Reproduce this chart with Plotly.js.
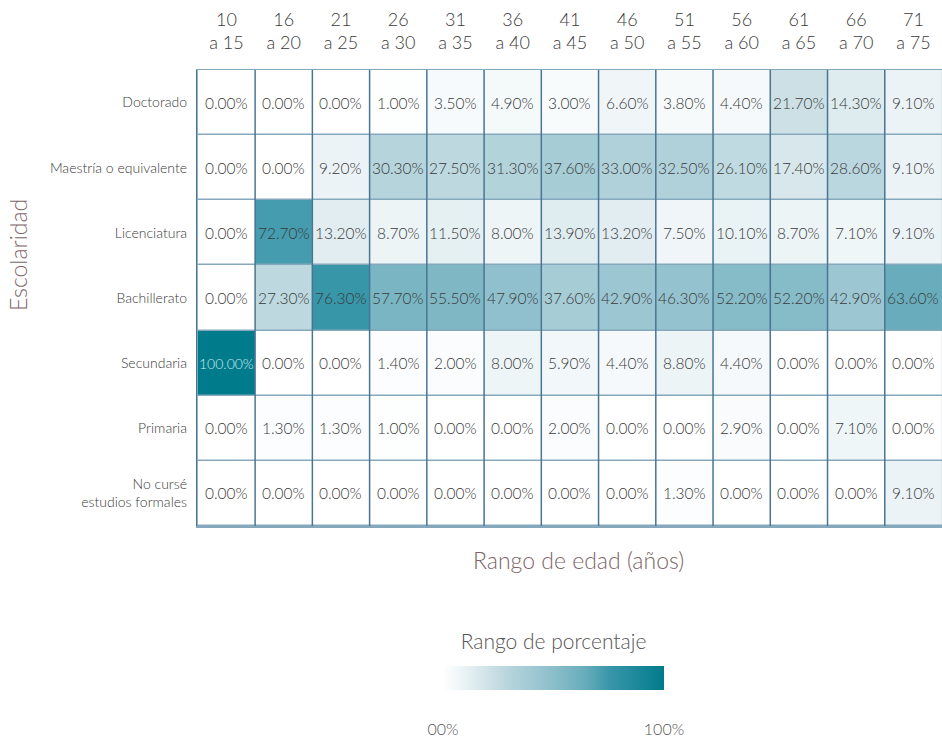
<!DOCTYPE html>
<html>
<head>
<meta charset="utf-8">
<script src="https://cdn.plot.ly/plotly-3.0.1.min.js"></script>
<style>html,body{margin:0;padding:0;background:#fff;}#chart{width:942px;height:738px;}</style>
</head>
<body>
<div id="chart"></div>
<script>
// Age ranges (x categories) and tick labels
const ageRanges = ['10-15','16-20','21-25','26-30','31-35','36-40','41-45','46-50','51-55','56-60','61-65','66-70','71-75'];
const ageLabels = ['10<br>a 15','16<br>a 20','21<br>a 25','26<br>a 30','31<br>a 35','36<br>a 40','41<br>a 45','46<br>a 50','51<br>a 55','56<br>a 60','61<br>a 65','66<br>a 70','71<br>a 75'];

// Schooling levels (y categories, top to bottom)
const levels = ['Doctorado','Maestría o equivalente','Licenciatura','Bachillerato','Secundaria','Primaria','No cursé<br>estudios formales'];

// Percentages per level
const doctorado    = [0, 0, 0, 1.0, 3.5, 4.9, 3.0, 6.6, 3.8, 4.4, 21.7, 14.3, 9.1];
const maestria     = [0, 0, 9.2, 30.3, 27.5, 31.3, 37.6, 33.0, 32.5, 26.1, 17.4, 28.6, 9.1];
const licenciatura = [0, 72.7, 13.2, 8.7, 11.5, 8.0, 13.9, 13.2, 7.5, 10.1, 8.7, 7.1, 9.1];
const bachillerato = [0, 27.3, 76.3, 57.7, 55.5, 47.9, 37.6, 42.9, 46.3, 52.2, 52.2, 42.9, 63.6];
const secundaria   = [100, 0, 0, 1.4, 2.0, 8.0, 5.9, 4.4, 8.8, 4.4, 0, 0, 0];
const primaria     = [0, 1.3, 1.3, 1.0, 0, 0, 2.0, 0, 0, 2.9, 0, 7.1, 0];
const noCurse      = [0, 0, 0, 0, 0, 0, 0, 0, 1.3, 0, 0, 0, 9.1];

const zRows = [doctorado, maestria, licenciatura, bachillerato, secundaria, primaria, noCurse];

const FONT = 'Lato, "Open Sans", sans-serif';

const colorscale = [
  [0, '#ffffff'], [0.1, '#e9f2f5'], [0.2, '#d0e3e8'], [0.3, '#b6d4dc'],
  [0.43, '#9bc6d2'], [0.55, '#80b8c5'], [0.64, '#68adbc'], [0.75, '#3a97aa'], [1, '#007b8c']
];

const heat = {
  type: 'heatmap',
  x: ageRanges,
  y: levels,
  z: zRows,
  zmin: 0, zmax: 100,
  colorscale: colorscale,
  xgap: 0, ygap: 1.5,
  hoverinfo: 'skip',
  colorbar: {
    orientation: 'h',
    x: (553.5 - 197) / 745, xanchor: 'center',
    y: (526 - 641) / 456, yanchor: 'top',
    len: 221, lenmode: 'pixels',
    thickness: 24,
    xpad: 0, ypad: 0,
    outlinewidth: 0,
    title: {text: 'Rango de porcentaje', side: 'top', font: {family: FONT, size: 21, color: '#555555', weight: 300}},
    tickmode: 'array', tickvals: [0, 100], ticktext: ['00%', '100%'],
    ticks: 'outside', ticklen: 26, tickcolor: 'rgba(0,0,0,0)',
    tickfont: {family: FONT, size: 16, color: '#555555', weight: 300}
  }
};

// Cell value annotations
const annotations = [];
zRows.forEach((row, r) => {
  row.forEach((v, c) => {
    annotations.push({
      x: ageRanges[c], y: levels[r], xref: 'x', yref: 'y',
      text: v.toFixed(2) + '%', showarrow: false,
      font: {family: FONT, size: v > 90 ? 14 : 15.5, color: v > 90 ? '#cfe8ee' : '#3a3a3a', weight: 300}
    });
  });
});

annotations.push({
  xref: 'paper', yref: 'paper', x: (578 - 197) / 745, y: (526 - 560) / 456,
  xanchor: 'center', yanchor: 'middle', showarrow: false,
  text: 'Rango de edad (años)', font: {family: FONT, size: 23, color: '#7d6467', weight: 300}
});
annotations.push({
  xref: 'paper', yref: 'paper', x: (18 - 197) / 745, y: (526 - 255) / 456,
  xanchor: 'center', yanchor: 'middle', showarrow: false, textangle: -90,
  text: 'Escolaridad', font: {family: FONT, size: 23, color: '#7d6467', weight: 300}
});

// vertical separators between age columns
const shapes = ageRanges.slice(1).map((_, i) => ({
  type: 'line', xref: 'x', yref: 'paper', x0: i + 0.5, x1: i + 0.5, y0: 0, y1: 1,
  line: {color: '#4a7592', width: 1.5}, layer: 'above'
}));

const layout = {
  width: 942, height: 738,
  margin: {l: 197, r: 0, t: 70, b: 212, autoexpand: false},
  paper_bgcolor: '#ffffff',
  plot_bgcolor: '#86a8bd',
  font: {family: FONT, color: '#3a3a3a'},
  xaxis: {
    side: 'top', type: 'category',
    tickmode: 'array', tickvals: ageRanges, ticktext: ageLabels,
    tickfont: {family: FONT, size: 18, color: '#3a3a3a', weight: 300},
    ticks: 'outside', ticklen: 12, tickcolor: 'rgba(0,0,0,0)',
    showgrid: false, zeroline: false,
    showline: true, mirror: true, linecolor: '#86a8bd', linewidth: 1.5,
    fixedrange: true
  },
  yaxis: {
    type: 'category', autorange: 'reversed',
    tickfont: {family: FONT, size: 14, color: '#3a3a3a', weight: 300},
    ticks: 'outside', ticklen: 6, tickcolor: 'rgba(0,0,0,0)',
    showgrid: false, zeroline: false,
    showline: true, mirror: true, linecolor: '#4a7592', linewidth: 1.2,
    fixedrange: true
  },
  annotations: annotations,
  shapes: shapes,
  showlegend: false
};

Plotly.newPlot('chart', [heat], layout, {displayModeBar: false, staticPlot: true});
</script>
</body>
</html>
